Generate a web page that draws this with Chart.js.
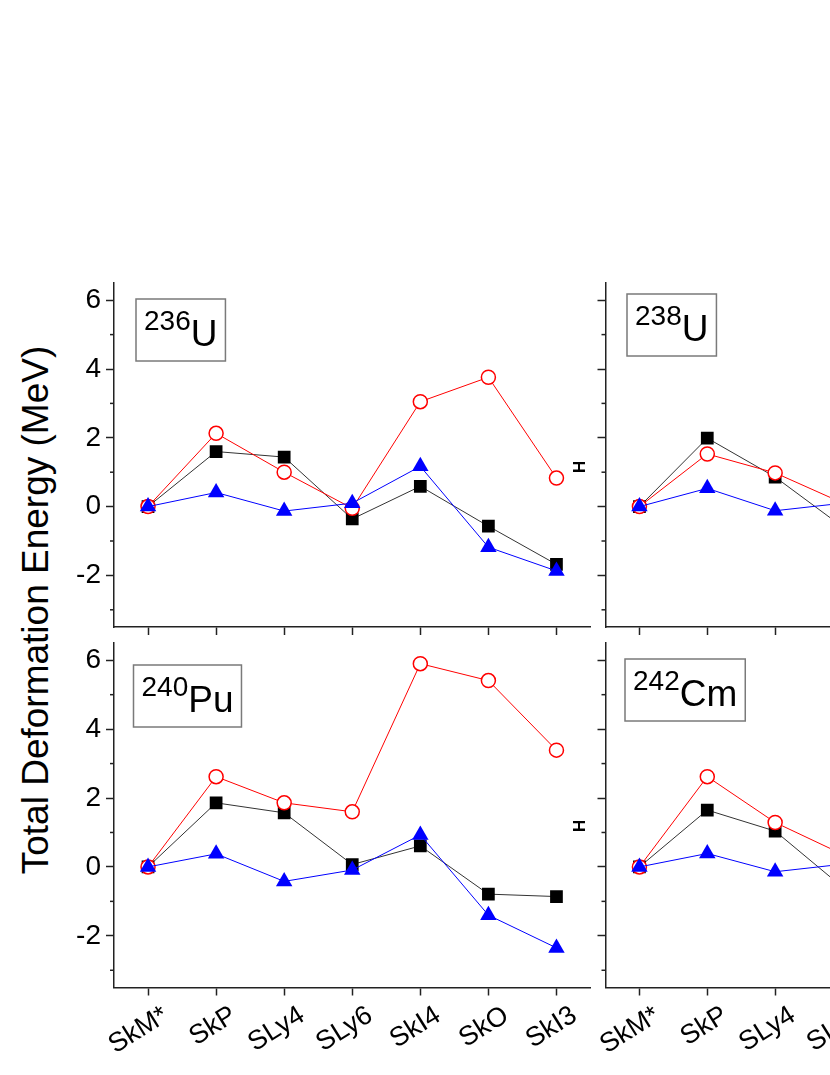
<!DOCTYPE html>
<html>
<head>
<meta charset="utf-8">
<script src="https://cdn.jsdelivr.net/npm/chart.js@4/dist/chart.umd.min.js"></script>
<style>
  html, body { margin: 0; padding: 0; background: #fff; overflow: hidden; width: 830px; height: 1075px; }
  canvas { position: absolute; }
  #ytitle {
    position: absolute; left: -264px; top: 588px; width: 600px; height: 44px; line-height: 44px;
    text-align: center; transform: rotate(-90deg); transform-origin: 50% 50%;
    font-family: "Liberation Sans", Arial, sans-serif; font-size: 37px; color: #000; white-space: nowrap;
  }
</style>
</head>
<body>
<div id="ytitle">Total Deformation Energy (MeV)</div>
<canvas id="c236"></canvas>
<canvas id="c240"></canvas>
<canvas id="c238"></canvas>
<canvas id="c242"></canvas>
<script>
// ---------------- data ----------------
const categories = ['SkM*', 'SkP', 'SLy4', 'SLy6', 'SkI4', 'SkO', 'SkI3'];
const yTickValues = [-2, 0, 2, 4, 6];
const yMinorValues = [-3, -1, 1, 3, 5];

const u236Square   = [0, 1.60, 1.44, -0.36, 0.59, -0.57, -1.68];
const u236Circle   = [0, 2.13, 1.00, -0.05, 3.05, 3.76, 0.83];
const u236Triangle = [0, 0.41, -0.13, 0.10, 1.17, -1.18, -1.87];

const pu240Square   = [0, 1.86, 1.57, 0.07, 0.61, -0.79, -0.86];
const pu240Circle   = [0, 2.62, 1.86, 1.60, 5.90, 5.41, 3.39];
const pu240Triangle = [0, 0.38, -0.42, -0.09, 0.93, -1.40, -2.35];

const u238Square   = [0, 1.99, 0.86, -0.60];
const u238Circle   = [0, 1.53, 0.98, 0.10];
const u238Triangle = [0, 0.53, -0.12, 0.10];

const cm242Square   = [0, 1.65, 1.04, -0.60];
const cm242Circle   = [0, 2.62, 1.29, 0.36];
const cm242Triangle = [0, 0.39, -0.14, 0.08];

// ---------------- styling ----------------
const FONT = '"Liberation Sans", Arial, sans-serif';
const AXIS = '#222';

const minorTicks = {
  id: 'minorTicks',
  afterDraw(chart) {
    const ys = chart.scales.y, ctx = chart.ctx;
    ctx.save();
    ctx.strokeStyle = AXIS; ctx.lineWidth = 1.5;
    yMinorValues.forEach(v => {
      const p = ys.getPixelForValue(v);
      ctx.beginPath(); ctx.moveTo(ys.right - 4, p); ctx.lineTo(ys.right, p); ctx.stroke();
    });
    ctx.restore();
  }
};

const panelLabel = {
  id: 'panelLabel',
  afterDraw(chart, args, opts) {
    if (!opts || !opts.mass) return;
    const ctx = chart.ctx, a = chart.chartArea;
    const x0 = a.left + opts.dx, y0 = a.top + opts.dy;
    ctx.save();
    ctx.font = '28px ' + FONT;
    const w1 = ctx.measureText(opts.mass).width;
    ctx.font = '37px ' + FONT;
    const w2 = ctx.measureText(opts.sym).width;
    const bw = w1 + w2 + 16, bh = 62;
    ctx.strokeStyle = '#7a7a7a'; ctx.lineWidth = 1.5;
    ctx.strokeRect(x0, y0, bw, bh);
    ctx.fillStyle = '#000';
    ctx.textBaseline = 'alphabetic'; ctx.textAlign = 'left';
    ctx.font = '28px ' + FONT;
    ctx.fillText(opts.mass, x0 + 8, y0 + 31);
    ctx.font = '37px ' + FONT;
    ctx.fillText(opts.sym, x0 + 8 + w1, y0 + 47);
    if (opts.hMark) {
      ctx.translate(a.right - 13, a.top + opts.hMark);
      ctx.rotate(Math.PI / 2);
      ctx.font = 'bold 17px ' + FONT;
      ctx.textAlign = 'center'; ctx.textBaseline = 'middle';
      ctx.fillText('H', 0, 0);
    }
    ctx.restore();
  }
};

function zeroPad(s) { s.paddingTop = 0; s.paddingBottom = 0; s.paddingLeft = 0; s.paddingRight = 0; }

function makePanel(id, p) {
  const cv = document.getElementById(id);
  cv.width = p.cw; cv.height = p.ch;
  cv.style.left = p.cx + 'px'; cv.style.top = p.cy + 'px';
  cv.style.width = p.cw + 'px'; cv.style.height = p.ch + 'px';
  new Chart(cv, {
    type: 'line',
    data: {
      labels: categories,
      datasets: [
        { data: p.tri, borderColor: '#0000ff', backgroundColor: '#0000ff', borderWidth: 1,
          pointStyle: 'triangle', pointRadius: 9.5, pointBorderWidth: 0,
          pointBackgroundColor: '#0000ff' },
        { data: p.circ, borderColor: '#ff0000', backgroundColor: '#fff', borderWidth: 1,
          pointStyle: 'circle', pointRadius: 7, pointBorderWidth: 1.5,
          pointBackgroundColor: '#fff', pointBorderColor: '#ff0000' },
        { data: p.sq, borderColor: '#333', backgroundColor: '#000', borderWidth: 1,
          pointStyle: 'rect', pointRadius: 9, pointBorderWidth: 0,
          pointBackgroundColor: '#000' }
      ]
    },
    options: {
      responsive: false, animation: false, events: [],
      layout: { padding: { top: p.padTop, right: p.padRight, left: 0, bottom: 0 } },
      elements: { line: { tension: 0 } },
      plugins: {
        legend: { display: false }, tooltip: { enabled: false },
        panelLabel: { mass: p.mass, sym: p.sym, dx: p.dx, dy: p.dy, hMark: p.hMark }
      },
      scales: {
        x: {
          type: 'category', offset: true,
          grid: { display: true, drawOnChartArea: false, drawTicks: true, tickLength: 8,
                  color: AXIS, tickColor: AXIS, tickWidth: 1.5, offset: false },
          border: { display: true, color: AXIS, width: 1.5 },
          ticks: { display: p.showX, autoSkip: false, minRotation: 32, maxRotation: 32,
                   labelOffset: 18, padding: 4, color: '#000', font: { family: FONT, size: 27 } },
          afterFit: s => { s.height = p.xH; zeroPad(s); }
        },
        y: {
          type: 'linear', min: -3.5, max: 6.5,
          afterBuildTicks: s => { s.ticks = yTickValues.map(v => ({ value: v })); },
          grid: { display: true, drawOnChartArea: false, drawTicks: true, tickLength: 8,
                  color: AXIS, tickColor: AXIS, tickWidth: 1.5 },
          border: { display: true, color: AXIS, width: 1.5 },
          ticks: { display: p.showY, padding: 5, color: '#000', font: { family: FONT, size: 28 } },
          afterFit: s => { s.width = p.yW; zeroPad(s); }
        }
      }
    },
    plugins: [minorTicks, panelLabel]
  });
}

// top-left: 236U
makePanel('c236', { cx: 0, cy: 270, cw: 600, ch: 375, padTop: 13, padRight: 6, yW: 114, xH: 18,
  showX: false, showY: true, sq: u236Square, circ: u236Circle, tri: u236Triangle,
  mass: '236', sym: 'U', dx: 22, dy: 16, hMark: 184 });
// bottom-left: 240Pu
makePanel('c240', { cx: 0, cy: 630, cw: 600, ch: 445, padTop: 13, padRight: 6, yW: 114, xH: 87.5,
  showX: true, showY: true, sq: pu240Square, circ: pu240Circle, tri: pu240Triangle,
  mass: '240', sym: 'Pu', dx: 19.5, dy: 22, hMark: 183 });
// top-right: 238U
makePanel('c238', { cx: 590, cy: 270, cw: 500, ch: 375, padTop: 13, padRight: 4.5, yW: 15.5, xH: 18,
  showX: false, showY: false, sq: u238Square, circ: u238Circle, tri: u238Triangle,
  mass: '238', sym: 'U', dx: 21.5, dy: 11 });
// bottom-right: 242Cm
makePanel('c242', { cx: 590, cy: 630, cw: 500, ch: 445, padTop: 13, padRight: 4.5, yW: 15.5, xH: 87.5,
  showX: true, showY: false, sq: cm242Square, circ: cm242Circle, tri: cm242Triangle,
  mass: '242', sym: 'Cm', dx: 19.5, dy: 16 });
</script>
</body>
</html>
